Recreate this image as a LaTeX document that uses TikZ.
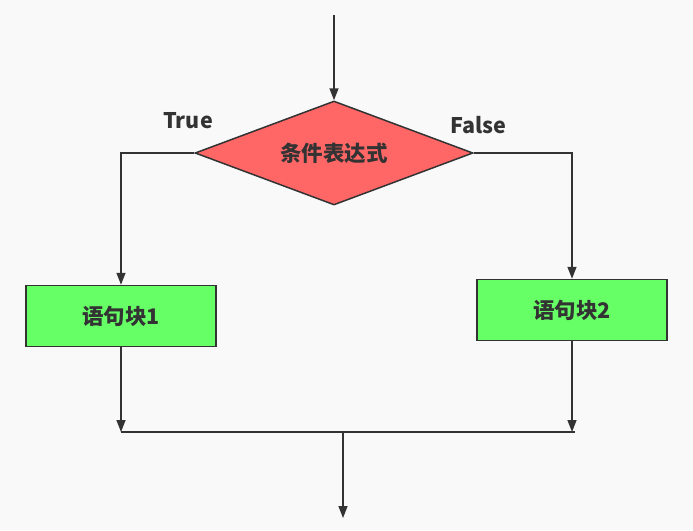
\documentclass[tikz,border=0pt]{standalone}
\usepackage{fontspec}
\newfontfamily\cjk{Noto Sans CJK SC}
\usepackage{tikz}
\usetikzlibrary{positioning,arrows.meta,shapes.geometric}
\definecolor{inkgray}{HTML}{333333}
\definecolor{condred}{HTML}{FF6666}
\definecolor{blockgreen}{HTML}{66FF66}
\definecolor{bggray}{HTML}{F9F9F9}

\begin{document}
\begin{tikzpicture}[
  x=1pt, y=-1pt,
  font=\cjk\bfseries\fontsize{21.5}{24}\selectfont, text=inkgray,
  >={Triangle[length=12pt,width=9pt]},
  cond/.style={diamond, aspect=2.67, draw=inkgray, line width=1.5pt, fill=condred,
    minimum width=278pt, minimum height=104pt, inner sep=0pt},
  block/.style={draw=inkgray, line width=1.5pt, fill=blockgreen,
    minimum width=190pt, minimum height=61pt, inner sep=0pt},
  arr/.style={->, draw=inkgray, line width=1.5pt},
  line/.style={draw=inkgray, line width=1.5pt}
]
\fill[bggray] (0,0) rectangle (693,530);
\useasboundingbox (0,0) rectangle (693,530);
\node[cond] (test) at (334,153) {条件表达式};
\node[block] (b1) at (121,316) {语句块1};
\node[block] (b2) at (572,310) {语句块2};
\node (yes) at (188,121) {True};
\node (no) at (478,125) {False};
\coordinate (start) at (334,15);
\coordinate (j1) at (121,432);
\coordinate (j2) at (575,432);
\coordinate (jm) at (343,432);
\coordinate (stop) at (343,518);
\draw[arr] (start) -- (test.north);
\draw[arr] (test.west) -| (b1.north);
\draw[arr] (test.east) -| (b2.north);
\draw[arr] (b1.south) -- (j1);
\draw[arr] (b2.south) -- (b2.south |- j2);
\draw[line] (j1) -- (j2);
\draw[arr] (jm) -- (stop);
\end{tikzpicture}
\end{document}
